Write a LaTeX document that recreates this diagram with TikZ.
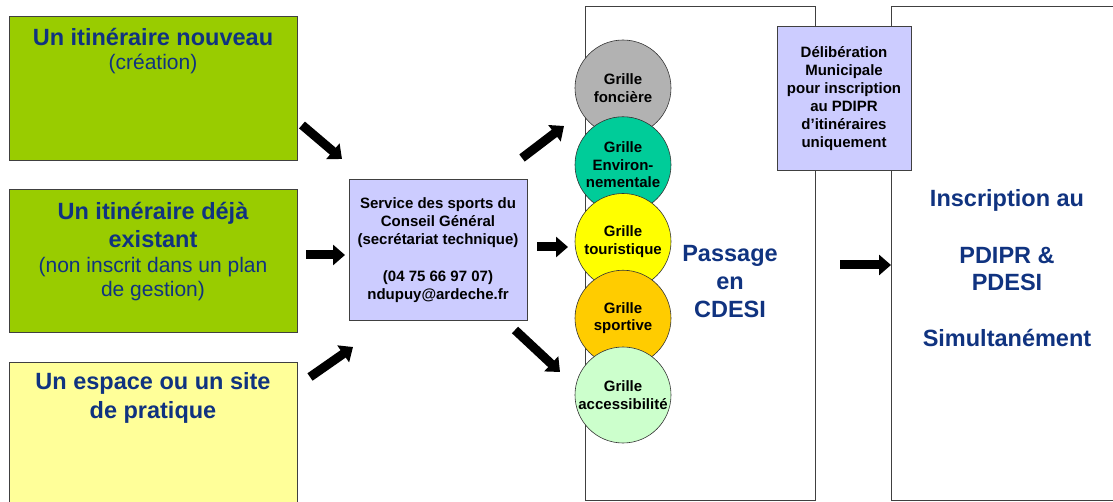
\documentclass[tikz,border=0pt]{standalone}
\usepackage{fontspec}
\setmainfont{Liberation Sans}
\usepackage{xcolor}
\usepackage{tikz}
\usetikzlibrary{arrows.meta,positioning}
\definecolor{navy}{RGB}{16,51,128}
\definecolor{vert}{RGB}{153,204,0}
\definecolor{jaune}{RGB}{255,255,153}
\definecolor{lavande}{RGB}{204,204,255}
\definecolor{gris}{RGB}{178,178,178}
\definecolor{turquoise}{RGB}{0,204,153}
\definecolor{jaunevif}{RGB}{255,255,0}
\definecolor{orangec}{RGB}{255,204,0}
\definecolor{vertpale}{RGB}{204,255,204}
\tikzset{
    Box/.style = {draw=black!75,line width=0.8pt,anchor=north west,inner sep=0pt},
    Title/.style = {text=navy,font=\fontsize{23.5}{28.5}\selectfont\bfseries,align=center,inner sep=0pt,anchor=base},
    Sub/.style = {text=navy,font=\fontsize{21}{24}\selectfont,align=center,inner sep=0pt,anchor=base},
    Big/.style = {text=navy,font=\fontsize{23.5}{28}\selectfont\bfseries,align=center,inner sep=0pt,anchor=base},
    Small/.style = {font=\fontsize{15}{18}\selectfont\bfseries,align=center,inner sep=0pt,anchor=base},
    Grille/.style = {circle,draw=black!80,line width=0.6pt,minimum size=96pt,inner sep=0pt,
                     font=\fontsize{15}{17.5}\selectfont\bfseries,align=center},
    Fat/.style = {line width=9pt,-{Triangle[length=12pt,width=20pt]}}
}
\begin{document}
\begin{tikzpicture}[x=1pt,y=-1pt]
        \useasboundingbox (0,0) rectangle (1113,502);
        \clip (0,0) rectangle (1113,502);
        % cas de depart
        \node[Box,fill=vert,minimum width=288pt,minimum height=144pt] (nouveau) at (9,16) {};
        \node[Box,fill=vert,minimum width=288pt,minimum height=143pt] (existant) at (9,189) {};
        \node[Box,fill=jaune,minimum width=288pt,minimum height=170pt] (espace) at (9,362) {};
        \node[Title] at (153,46) {Un itinéraire nouveau};
        \node[Sub] at (153,70) {(création)};
        \node[Title] at (153,248) {Un itinéraire déjà\\existant};
        \node[Sub] at (153,297) {(non inscrit dans un plan\\de gestion)};
        \node[Title] at (153,418) {Un espace ou un site\\de pratique};
        % secretariat
        \node[Box,fill=lavande,minimum width=178pt,minimum height=141pt] (service) at (349,179) {};
        \node[Small] at (438,300) {Service des sports du\\Conseil Général\\(secrétariat technique)\\[19pt](04 75 66 97 07)\\ndupuy@ardeche.fr};
        % colonnes
        \node[Box,minimum width=230pt,minimum height=494pt] (passage) at (585,6) {};
        \node[Box,minimum width=240pt,minimum height=494pt] (pdipr) at (891,6) {};
        \node[Box,fill=lavande,minimum width=134pt,minimum height=144pt] (delib) at (777,26) {};
        \node[Small] at (844,148) {Délibération\\Municipale\\pour inscription\\au PDIPR\\d’itinéraires\\uniquement};
        \foreach \nom/\coul/\txt [count=\i] in {fonciere/gris/{Grille\\foncière},
            environ/turquoise/{Grille\\Environ-\\nementale},
            touristique/jaunevif/{Grille\\touristique},
            sportive/orangec/{Grille\\sportive},
            access/vertpale/{Grille\\accessibilité}}
            {\node[Grille,fill=\coul] (\nom) at (623,{88+76.75*(\i-1)}) {\txt};}
        \node[Big] at (730,318) {Passage\\en\\CDESI};
        \node[Big] at (1007,347) {Inscription au\\[28pt]PDIPR \&\\PDESI\\[28pt]Simultanément};
        % fleches
        \foreach \xa/\ya/\xb/\yb [count=\i] in {302/125/342/159,306/255/345/255,310/377/353/347,
            522/158/564/126,537/247/568/247,515/330/560/372,840/265/891/265}
            {\coordinate (s\i) at (\xa,\ya);
             \coordinate (t\i) at (\xb,\yb);
             \draw[Fat] (s\i) -- (t\i);}
\end{tikzpicture}
\end{document}
